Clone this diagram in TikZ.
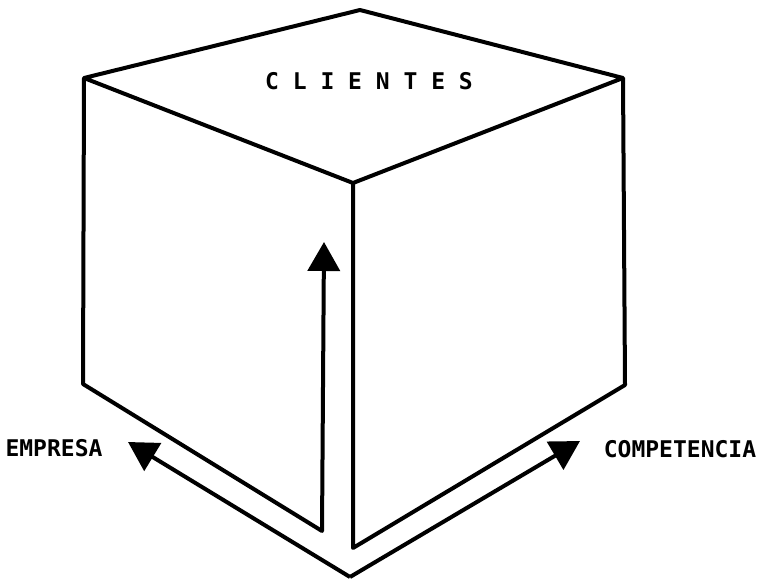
\documentclass[tikz,border=0pt]{standalone}
\usepackage{fontspec}
\setmonofont{DejaVu Sans Mono}
\usepackage{tikz}
\usetikzlibrary{arrows.meta}

\begin{document}
\begin{tikzpicture}[x=1pt, y=-1pt, line width=4pt, line join=round,
    tip/.style={-{Triangle[length=29pt, width=32pt]}},
    lbl/.style={font=\fontsize{23}{23}\selectfont\ttfamily\bfseries}]
    \useasboundingbox (0,0) rectangle (762,578);

    % Corners
    \coordinate (top) at (360, 10);
    \coordinate (tl) at (84, 78);
    \coordinate (tr) at (623, 78);
    \coordinate (front) at (353, 183);
    \coordinate (bl) at (83, 384);
    \coordinate (inner) at (322, 531);
    \coordinate (fb) at (353, 548);
    \coordinate (br) at (625, 385);
    \coordinate (base) at (350, 577);
    \coordinate (uptip) at (324, 242);
    \coordinate (ltip) at (128, 442);
    \coordinate (rtip) at (580, 441);

    % Top face
    \draw (tl) -- (top) -- (tr) -- (front) -- cycle;
    \node[lbl] (clientes) at (369, 81) {C L I E N T E S};

    % Right face
    \draw (front) -- (fb) -- (br) -- (tr);

    % Left face, its inner edge ends in the arrow
    \draw[tip] (tl) -- (bl) -- (inner) -- (uptip);

    % Arrows out of the bottom
    \draw[tip] (base) -- (ltip);
    \draw[tip] (base) -- (rtip);
    \node[lbl] (empresa) at (54, 448) {EMPRESA};
    \node[lbl] (competencia) at (680, 449) {COMPETENCIA};
\end{tikzpicture}
\end{document}
